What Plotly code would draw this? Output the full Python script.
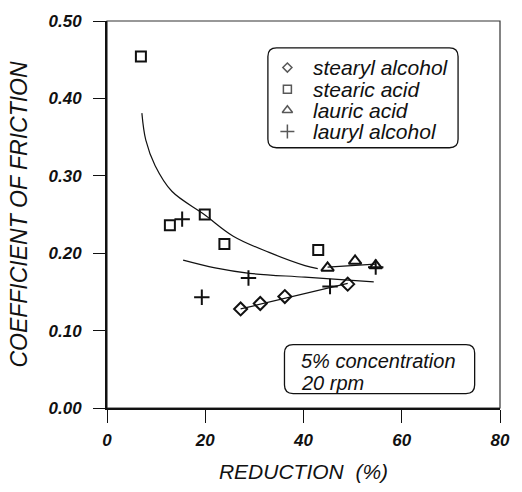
import plotly.graph_objects as go

# Measured friction data (reduction in %, coefficient of friction)
stearyl_alcohol_x = [27.2, 31.2, 36.2, 49.0]
stearyl_alcohol_y = [0.128, 0.135, 0.144, 0.160]

stearic_acid_x = [6.9, 12.8, 19.9, 23.9, 43.0]
stearic_acid_y = [0.454, 0.236, 0.250, 0.212, 0.204]

lauric_acid_x = [44.9, 50.5, 54.7]
lauric_acid_y = [0.181, 0.190, 0.184]

lauryl_alcohol_x = [15.3, 19.3, 28.8, 45.4, 54.7]
lauryl_alcohol_y = [0.244, 0.143, 0.168, 0.157, 0.182]

# Trend curves drawn through the data
stearic_fit_x = [7.1, 7.9, 9.8, 13.2, 19.8, 25.7, 33.0, 40.3, 42.9]
stearic_fit_y = [0.381, 0.346, 0.313, 0.280, 0.250, 0.222, 0.201, 0.184, 0.180]

lauryl_fit_x = [15.5, 22.0, 29.0, 40.3, 54.3]
lauryl_fit_y = [0.191, 0.181, 0.174, 0.169, 0.163]

stearyl_fit_x = [27.2, 49.0]
stearyl_fit_y = [0.128, 0.161]

lauric_fit_x = [44.9, 54.6]
lauric_fit_y = [0.182, 0.186]

x_ticks = [0, 20, 40, 60, 80]
y_ticks = [0.0, 0.1, 0.2, 0.3, 0.4, 0.5]

series = [
    ("stearyl alcohol", stearyl_alcohol_x, stearyl_alcohol_y, "diamond-open", 10),
    ("stearic acid", stearic_acid_x, stearic_acid_y, "square-open", 10),
    ("lauric acid", lauric_acid_x, lauric_acid_y, "triangle-up-open", 11),
    ("lauryl alcohol", lauryl_alcohol_x, lauryl_alcohol_y, "cross-thin-open", 11),
]

FONT = "Liberation Sans, Arial, Helvetica, sans-serif"
INK = "#111111"

fig = go.Figure()

# trend curves
for fx, fy, shape in [
    (stearic_fit_x, stearic_fit_y, "spline"),
    (lauryl_fit_x, lauryl_fit_y, "spline"),
    (stearyl_fit_x, stearyl_fit_y, "linear"),
    (lauric_fit_x, lauric_fit_y, "linear"),
]:
    fig.add_trace(go.Scatter(x=fx, y=fy, mode="lines", showlegend=False,
                             line=dict(color=INK, width=1.2, shape=shape),
                             hoverinfo="skip"))

# data markers
for name, sx, sy, sym, size in series:
    fig.add_trace(go.Scatter(
        x=sx, y=sy, mode="markers", name=name, showlegend=False,
        marker=dict(symbol=sym, size=size, color=INK,
                    line=dict(color=INK, width=2)),
    ))

# legend keys on an overlay axis spanning the plot area (0..1 both ways)
key_x = 0.459
row_y = [0.8797, 0.8238, 0.7692, 0.7146]
fig.add_trace(go.Scatter(
    x=[key_x] * len(series), y=row_y, mode="markers", showlegend=False,
    xaxis="x2", yaxis="y2", hoverinfo="skip",
    marker=dict(symbol=[s[3] for s in series], size=[7, 8, 9, 10], color=INK,
                line=dict(color=INK, width=1.5)),
))

annotations = []
for (name, *_), ry in zip(series, row_y):
    annotations.append(dict(
        text=name, xref="paper", yref="paper", x=0.5186, y=ry,
        xanchor="left", yanchor="middle", showarrow=False,
        font=dict(family=FONT, size=21, color=INK, style="italic"),
    ))

for txt, ty in [("5% concentration", 0.1216), ("20 rpm", 0.0658)]:
    annotations.append(dict(
        text=txt, xref="paper", yref="paper", x=0.4876, y=ty,
        xanchor="left", yanchor="middle", showarrow=False,
        font=dict(family=FONT, size=20, color=INK, style="italic"),
    ))


def rounded_box(x0, y0, x1, y1, r):
    """SVG path of a rounded rectangle in paper units (plot area is square)."""
    return (f"M {x0 + r},{y0} L {x1 - r},{y0} Q {x1},{y0} {x1},{y0 + r} "
            f"L {x1},{y1 - r} Q {x1},{y1} {x1 - r},{y1} "
            f"L {x0 + r},{y1} Q {x0},{y1} {x0},{y1 - r} "
            f"L {x0},{y0 + r} Q {x0},{y0} {x0 + r},{y0} Z")


shapes = [
    # thin frame on top/right
    dict(type="rect", xref="paper", yref="paper", x0=0, y0=0, x1=1, y1=1,
         line=dict(color="#333333", width=1.2), layer="below"),
    dict(type="path", xref="paper", yref="paper",
         path=rounded_box(0.4094, 0.6725, 0.8933, 0.9305, 0.022),
         line=dict(color=INK, width=1.3), fillcolor="white", layer="below"),
    dict(type="path", xref="paper", yref="paper",
         path=rounded_box(0.4516, 0.0372, 0.9355, 0.1638, 0.022),
         line=dict(color=INK, width=1.3), fillcolor="white", layer="below"),
]

tick_font = dict(family=FONT, size=17, color=INK, weight="bold", style="italic")

fig.update_layout(
    width=522, height=492,
    margin=dict(l=107, r=12, t=15, b=74),
    paper_bgcolor="white", plot_bgcolor="white",
    showlegend=False,
    annotations=annotations,
    shapes=shapes,
    xaxis=dict(
        range=[0, 80], tickvals=x_ticks, ticktext=[str(v) for v in x_ticks],
        ticks="outside", ticklen=13, tickwidth=1.2, tickcolor=INK,
        showline=True, linewidth=1.6, linecolor=INK, showgrid=False,
        zeroline=False, tickfont=tick_font, ticklabelstandoff=3,
        title=dict(text="REDUCTION  (%)",
                   font=dict(family=FONT, size=21, color=INK, style="italic"),
                   standoff=15),
    ),
    yaxis=dict(
        range=[0, 0.5], tickvals=y_ticks, ticktext=[f"{v:.2f}" for v in y_ticks],
        ticks="outside", ticklen=12, tickwidth=1.2, tickcolor=INK,
        showline=True, linewidth=2, linecolor=INK, showgrid=False,
        zeroline=False, tickfont=tick_font, ticklabelstandoff=8,
        title=dict(text="COEFFICIENT OF FRICTION",
                   font=dict(family=FONT, size=23, color=INK, style="italic"),
                   standoff=14),
    ),
    xaxis2=dict(overlaying="x", range=[0, 1], visible=False),
    yaxis2=dict(overlaying="y", range=[0, 1], visible=False),
)

fig.write_html("out.html")
